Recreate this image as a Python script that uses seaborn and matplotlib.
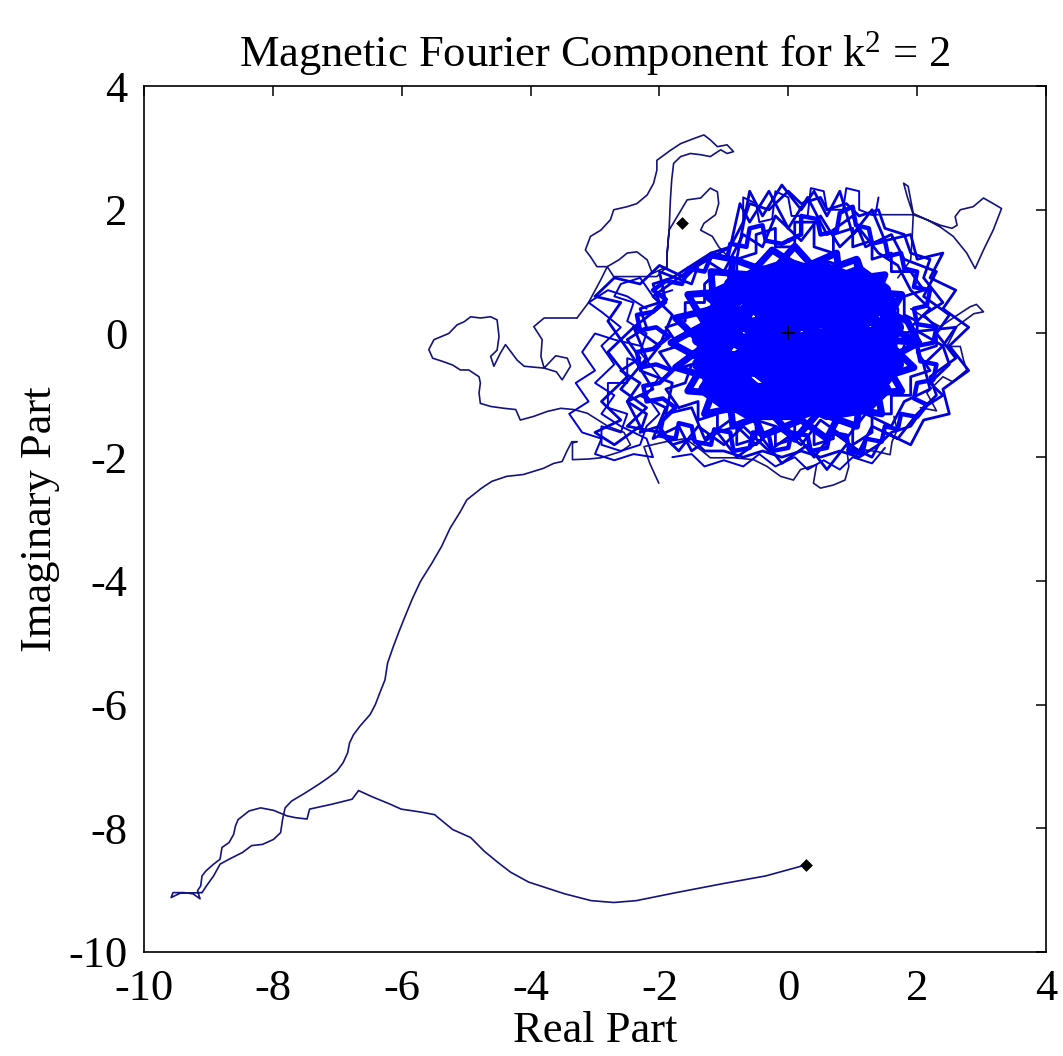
import matplotlib
matplotlib.use("Agg")
import matplotlib.pyplot as plt
import pandas as pd
import seaborn as sns

# ---------------- data ----------------
title = "Magnetic Fourier Component for k$^{2}$ = 2"
x_label = "Real Part"
y_label = "Imaginary Part"
ticks = [-10, -8, -6, -4, -2, 0, 2, 4]

start_point = [(0.28, -8.59)]
end_point = [(-1.65, 1.78)]
origin_point = [(0.0, 0.0)]

tail = [
    (0.28, -8.59), (-0.35, -8.77), (-1.04, -8.90), (-1.74, -9.04), (-2.36, -9.17),
    (-2.71, -9.20), (-3.06, -9.17), (-3.47, -9.06), (-4.03, -8.87), (-4.31, -8.71),
    (-4.51, -8.55), (-4.72, -8.37), (-4.93, -8.15), (-5.21, -8.02), (-5.49, -7.78),
    (-5.69, -7.74), (-6.01, -7.69), (-6.18, -7.61), (-6.46, -7.49), (-6.67, -7.39),
    (-6.77, -7.53), (-7.08, -7.61), (-7.43, -7.69), (-7.47, -7.85), (-7.64, -7.83),
    (-7.78, -7.80), (-7.99, -7.71), (-8.19, -7.67), (-8.37, -7.72), (-8.54, -7.86),
    (-8.58, -7.96), (-8.61, -8.10), (-8.68, -8.23), (-8.79, -8.31), (-8.82, -8.50),
    (-8.92, -8.58), (-9.04, -8.69), (-9.10, -8.77), (-9.12, -8.93), (-9.17, -9.01),
    (-9.13, -9.14), (-9.24, -9.06), (-9.38, -9.04), (-9.55, -9.04), (-9.58, -9.12),
    (-9.44, -9.05), (-9.10, -9.04),
]

branch = [
    (-9.10, -9.04), (-9.03, -8.93), (-8.92, -8.77), (-8.82, -8.58), (-8.68, -8.50),
    (-8.47, -8.39), (-8.33, -8.28), (-8.16, -8.26), (-7.99, -8.18), (-7.88, -8.07),
    (-7.85, -7.86), (-7.81, -7.67), (-7.71, -7.56), (-7.50, -7.43), (-7.29, -7.29),
    (-7.15, -7.19), (-7.01, -7.08), (-6.91, -6.94), (-6.84, -6.78), (-6.81, -6.62),
    (-6.75, -6.49), (-6.65, -6.35), (-6.49, -6.16), (-6.41, -6.00), (-6.34, -5.81),
    (-6.26, -5.60), (-6.22, -5.33), (-6.13, -5.06), (-6.05, -4.84), (-5.97, -4.63),
    (-5.84, -4.30), (-5.71, -4.01), (-5.53, -3.71), (-5.38, -3.44), (-5.25, -3.15),
    (-5.09, -2.88), (-4.99, -2.69), (-4.76, -2.50), (-4.60, -2.39), (-4.37, -2.31),
    (-4.11, -2.28), (-3.80, -2.18), (-3.64, -2.10), (-3.51, -2.07), (-3.44, -1.91),
    (-3.36, -1.75), (-3.28, -1.75),
]

left_loops = [
    (-3.28, -1.75), (-3.35, -1.77), (-3.35, -2.04), (-3.10, -2.03), (-2.91, -2.01),
    (-2.60, -1.91), (-2.45, -1.80), (-2.55, -1.60), (-2.80, -1.50), (-3.12, -1.29),
    (-3.33, -1.23), (-3.53, -1.21), (-3.74, -1.26), (-3.95, -1.34), (-4.16, -1.40),
    (-4.23, -1.23), (-4.41, -1.21), (-4.62, -1.18), (-4.78, -1.13), (-4.80, -0.96),
    (-4.78, -0.80), (-4.80, -0.70), (-4.96, -0.59), (-5.09, -0.59), (-5.21, -0.51),
    (-5.37, -0.45), (-5.52, -0.40), (-5.58, -0.26), (-5.50, -0.10), (-5.27, 0.00),
    (-5.14, 0.14), (-5.03, 0.19), (-4.93, 0.27), (-4.78, 0.25), (-4.62, 0.27),
    (-4.52, 0.22), (-4.49, -0.05), (-4.52, -0.27), (-4.62, -0.37), (-4.57, -0.53),
    (-4.47, -0.32), (-4.39, -0.18), (-4.31, -0.29), (-4.21, -0.43), (-4.10, -0.53),
    (-3.79, -0.56), (-3.61, -0.36), (-3.43, -0.40), (-3.38, -0.53), (-3.51, -0.75),
    (-3.60, -0.62), (-3.79, -0.56), (-3.84, -0.37), (-3.82, -0.10), (-3.95, 0.11),
    (-3.79, 0.25), (-3.53, 0.25), (-3.28, 0.25),
]

upper_loops = [
    (-3.28, 0.25), (-3.10, 0.50), (-2.91, 0.87), (-2.81, 1.08), (-2.97, 1.08),
    (-3.07, 1.24), (-3.15, 1.35), (-3.07, 1.57), (-2.91, 1.67), (-2.76, 1.84),
    (-2.71, 2.00), (-2.50, 2.05), (-2.35, 2.10), (-2.19, 2.24), (-2.09, 2.43),
    (-2.04, 2.64), (-2.04, 2.80), (-1.83, 2.96), (-1.67, 3.07), (-1.47, 3.15),
    (-1.31, 3.21), (-1.21, 3.13), (-1.10, 3.02), (-0.95, 3.05), (-0.85, 2.94),
    (-0.95, 2.91), (-1.05, 2.97), (-1.21, 2.86), (-1.36, 2.89), (-1.52, 2.91),
    (-1.67, 2.86), (-1.78, 2.75), (-1.81, 2.48), (-1.83, 2.16), (-1.85, 1.67),
    (-1.88, 1.30), (-1.88, 1.08), (-2.11, 0.97), (-2.19, 1.19), (-2.35, 1.32),
    (-2.50, 1.30), (-2.63, 1.19), (-2.81, 1.08), (-2.71, 0.92), (-2.04, 0.92),
    (-1.88, 1.08), (-1.88, 1.30), (-1.85, 1.67), (-1.57, 2.16), (-1.36, 2.19),
    (-1.21, 2.35), (-1.10, 2.29), (-1.08, 2.10), (-1.13, 1.92), (-1.31, 1.78),
    (-1.36, 1.67), (-1.18, 1.57), (-1.08, 1.40), (-0.90, 1.20),
]

right_loops = [
    (1.27, 1.92), (1.94, 1.92), (1.85, 2.20), (1.79, 2.43), (1.86, 2.38),
    (1.94, 1.94), (2.15, 1.84), (2.36, 1.72), (2.56, 1.57), (2.77, 1.30),
    (2.90, 1.05), (3.03, 1.35), (3.18, 1.67), (3.31, 2.02), (3.18, 2.10),
    (3.03, 2.19), (2.87, 2.05), (2.67, 2.00), (2.59, 1.89), (2.62, 1.75),
    (2.54, 1.70), (2.36, 1.75), (2.15, 1.84), (1.94, 1.92), (1.92, 1.50),
    (1.90, 1.19), (1.70, 0.90),
]

right_ext = [
    (1.90, 0.40), (2.20, 0.20), (2.36, 0.11), (2.60, 0.28), (2.82, 0.43),
    (2.92, 0.47), (3.03, 0.35), (2.88, 0.32), (2.62, 0.12), (2.46, -0.21),
    (2.67, -0.21), (2.72, -0.43), (2.77, -0.59), (2.55, -0.78), (2.40, -0.70),
    (2.15, -0.96), (2.30, -1.25), (2.05, -1.20),
]

bottom_loops = [
    (1.64, -1.34), (1.69, -1.56), (1.61, -1.75), (1.58, -1.96), (1.38, -1.91),
    (1.17, -1.88), (0.91, -1.88), (0.94, -2.15), (0.88, -2.37), (0.70, -2.45),
    (0.50, -2.50), (0.39, -2.42), (0.44, -2.12), (0.19, -2.20), (0.08, -2.37),
    (-0.12, -2.31), (-0.33, -2.15), (-0.54, -2.04), (-0.85, -2.01), (-1.21, -2.01),
    (-1.36, -1.88), (-1.60, -1.70), (-1.90, -1.75), (-2.24, -1.83), (-2.15, -2.10),
    (-2.01, -2.42),
]

left_mesh = [
    (-2.2, -0.5), (-2.5, -0.4), (-2.5, -0.8), (-2.8, -0.8), (-2.8, -1.2), (-2.5, -1.3),
    (-2.6, -1.6), (-2.9, -1.5), (-2.9, -1.8), (-2.6, -1.9), (-2.3, -1.8), (-2.2, -1.5),
    (-2.0, -1.3), (-2.2, -1.0), (-2.0, -0.7), (-2.3, -0.3), (-2.2, 0.0), (-2.5, 0.2),
    (-2.4, 0.5), (-2.7, 0.6), (-2.6, 0.8), (-2.3, 0.9), (-2.1, 0.6), (-1.8, 0.7),
]

left_mesh_outer = [
    (-2.3, -0.2), (-2.7, -0.1), (-3.0, 0.0), (-3.2, -0.3), (-3.0, -0.6), (-3.3, -0.8),
    (-3.1, -1.1), (-3.4, -1.3), (-3.2, -1.6), (-2.9, -1.7), (-3.0, -1.95), (-2.7, -2.05),
    (-2.4, -1.95), (-2.1, -2.0), (-2.2, -1.7), (-2.6, -1.5), (-2.9, -1.3), (-2.7, -1.0),
    (-3.0, -0.8), (-2.7, -0.5), (-2.9, -0.2), (-2.6, 0.1), (-2.9, 0.35), (-3.1, 0.5),
    (-2.8, 0.7), (-2.5, 0.6), (-2.2, 0.4),
]

top_spikes = [
    (-0.7, 1.7), (-0.7, 2.2), (-0.5, 2.1), (-0.45, 1.8), (-0.25, 1.85), (-0.2, 2.3),
    (0.0, 2.2), (0.05, 1.9), (0.3, 1.9), (0.35, 2.35), (0.55, 2.3), (0.6, 2.0),
    (0.85, 2.0), (0.9, 2.35), (1.1, 2.3), (1.1, 2.0), (1.35, 1.9), (1.4, 2.2),
]

bottom_fringe = [
    (1.5, -1.85), (1.3, -2.1), (1.0, -2.0), (0.8, -2.2), (0.55, -2.05), (0.3, -2.2),
    (0.1, -2.0), (-0.2, -2.15), (-0.45, -1.95), (-0.7, -2.15), (-1.0, -2.05), (-1.3, -2.15),
    (-1.5, -1.95), (-1.8, -2.0),
]

ring = [
    (-2.0, -0.2), (-1.8, 0.3), (-2.1, 0.6), (-1.7, 0.9), (-1.3, 1.2), (-1.0, 1.0),
    (-0.7, 1.6), (-0.4, 1.4), (-0.2, 1.9), (0.2, 1.5), (0.5, 1.9), (0.8, 1.4),
    (1.1, 1.7), (1.4, 1.3), (1.7, 1.1), (1.9, 0.7), (2.2, 0.4), (1.9, 0.1),
    (2.4, -0.2), (2.1, -0.5), (2.2, -0.9), (1.8, -1.1), (1.6, -1.5), (1.2, -1.3),
    (0.9, -1.7), (0.5, -1.4), (0.2, -1.8), (-0.2, -1.5), (-0.5, -1.8), (-0.9, -1.4),
    (-1.3, -1.7), (-1.5, -1.2), (-1.9, -1.3), (-1.8, -0.8), (-2.3, -0.6), (-2.0, -0.2),
    (-2.4, 0.1), (-2.2, -0.4), (-2.6, -0.9), (-2.2, -1.2), (-2.5, -1.5), (-2.0, -1.6),
    (-1.7, -1.9), (-1.4, -1.5), (-1.0, -1.8), (-0.7, -1.5), (-0.3, -1.9), (0.1, -1.6),
    (0.4, -2.0), (0.7, -1.6), (1.1, -1.9), (1.3, -1.5), (1.7, -1.7), (2.0, -1.3),
    (2.3, -1.0), (2.2, -0.7), (2.6, -0.4), (2.3, 0.0), (2.5, 0.3), (2.1, 0.6),
    (2.3, 1.0), (1.8, 1.2), (1.6, 1.6), (1.2, 1.4), (1.0, 1.9), (0.6, 1.6),
    (0.3, 2.2), (0.0, 1.7), (-0.3, 2.3), (-0.6, 1.8), (-0.75, 2.1), (-0.9, 1.4),
    (-1.4, 1.1), (-1.5, 0.8), (-2.0, 1.0), (-1.9, 0.5), (-2.4, 0.1),
    (-2.8, -0.3), (-2.5, -0.7), (-2.9, -1.1), (-2.6, -1.4), (-3.0, -1.6), (-2.7, -1.8),
    (-2.3, -1.5), (-2.5, -1.1), (-2.1, -0.9), (-2.4, -0.4), (-2.8, 0.2), (-2.6, 0.5),
    (-3.0, 0.6), (-2.7, 0.9), (-2.3, 0.8), (-2.0, 1.1), (-1.6, 0.9), (-1.2, 1.3),
    (-0.8, 1.2), (-0.6, 2.3), (-0.4, 1.9), (-0.1, 2.4), (0.2, 2.0), (0.4, 2.3),
    (0.6, 1.9), (0.8, 2.3), (1.0, 1.6), (1.3, 2.0), (1.5, 1.5), (1.9, 1.6),
    (2.0, 1.2), (2.4, 1.3), (2.2, 0.9), (2.6, 0.7), (2.4, 0.4), (2.8, 0.1),
    (2.5, -0.2), (2.8, -0.6), (2.4, -0.9), (2.5, -1.3), (2.1, -1.4), (1.9, -1.8),
    (1.5, -1.6), (1.3, -2.0), (0.9, -1.8), (0.6, -2.2), (0.3, -1.8), (-0.1, -2.1),
    (-0.4, -1.7), (-0.8, -2.0), (-1.1, -1.6), (-1.5, -1.9), (-1.7, -1.5), (-2.1, -1.7),
    (-1.9, -1.2), (-2.3, -1.0),
]

ring_inner = [
    (2.0, -0.1), (2.0, 0.2), (1.8, 0.3), (1.8, 0.6), (2.1, 0.7), (1.9, 1.0),
    (1.6, 1.0), (1.6, 1.3), (1.3, 1.2), (1.3, 1.5), (1.0, 1.4), (1.0, 1.7),
    (0.7, 1.6), (0.7, 1.3), (0.4, 1.4), (0.4, 1.8), (0.1, 1.8), (0.1, 1.4),
    (-0.2, 1.4), (-0.2, 1.7), (-0.5, 1.6), (-0.5, 1.3), (-0.8, 1.2), (-0.8, 0.9),
    (-1.1, 1.0), (-1.3, 0.8), (-1.3, 0.5), (-1.6, 0.5), (-1.6, 0.2), (-1.9, 0.1),
    (-1.7, -0.2), (-2.0, -0.3), (-1.8, -0.6), (-1.5, -0.5), (-1.6, -0.8), (-1.9, -0.9),
    (-1.7, -1.2), (-1.4, -1.1), (-1.4, -1.4), (-1.1, -1.3), (-1.1, -1.6), (-0.8, -1.5),
    (-0.8, -1.8), (-0.5, -1.7), (-0.5, -1.4), (-0.2, -1.5), (-0.2, -1.8), (0.1, -1.7),
    (0.1, -1.4), (0.4, -1.5), (0.4, -1.8), (0.7, -1.7), (0.7, -1.4), (1.0, -1.5),
    (1.0, -1.8), (1.3, -1.6), (1.3, -1.3), (1.6, -1.3), (1.6, -1.0), (1.9, -1.0),
    (1.9, -0.7), (2.2, -0.6), (2.0, -0.3), (2.3, -0.2), (2.3, 0.1), (2.1, 0.3),
    (2.4, 0.5), (2.1, 0.9), (2.2, 1.2), (1.9, 1.3), (1.8, 1.6), (1.5, 1.7),
    (1.4, 2.0), (1.1, 1.9), (0.9, 2.1), (0.6, 2.0), (0.5, 2.2), (0.2, 2.1),
    (0.0, 2.3), (-0.3, 2.0), (-0.6, 2.1), (-0.7, 1.8), (-0.9, 1.4), (-1.2, 1.3),
    (-1.5, 1.1), (-1.8, 0.9), (-2.1, 0.8), (-2.0, 0.5), (-2.3, 0.4), (-2.2, 0.1),
    (-2.5, -0.1), (-2.3, -0.4), (-2.6, -0.6), (-2.3, -0.8), (-2.5, -1.1), (-2.2, -1.3),
    (-2.3, -1.6), (-2.0, -1.5), (-1.8, -1.8), (-1.5, -1.7), (-1.3, -1.9), (-1.0, -1.9),
    (-0.7, -2.0), (-0.4, -1.9), (-0.1, -2.0), (0.2, -1.9), (0.5, -2.0), (0.8, -1.9),
    (1.1, -2.0), (1.4, -1.8), (1.6, -1.6), (1.9, -1.5), (2.1, -1.2), (2.4, -1.0),
    (2.2, -0.8), (2.5, -0.5), (2.4, -0.2), (2.6, 0.1),
    (1.7, 0.0), (1.7, 0.4), (1.5, 0.7), (1.2, 0.9), (1.1, 1.2), (0.8, 1.1),
    (0.5, 1.2), (0.3, 1.1), (0.0, 1.2), (-0.3, 1.1), (-0.6, 1.0), (-0.9, 0.7),
    (-1.1, 0.5), (-1.3, 0.2), (-1.4, -0.1), (-1.4, -0.4), (-1.3, -0.8), (-1.0, -1.0),
    (-0.8, -1.2), (-0.5, -1.3), (-0.2, -1.3), (0.1, -1.4), (0.4, -1.3), (0.7, -1.3),
    (1.0, -1.2), (1.3, -1.0), (1.5, -0.8), (1.7, -0.5), (1.8, -0.2),
]

halo = [
    (0.0, 1.5), (0.2, 1.6), (0.2, 1.9), (0.45, 1.85), (0.5, 1.6), (0.75, 1.65),
    (0.8, 1.95), (1.0, 2.05), (1.05, 1.75), (1.25, 1.7), (1.3, 1.45), (1.5, 1.5),
    (1.55, 1.25), (1.75, 1.3), (1.8, 1.05), (2.0, 1.0), (1.95, 0.75), (2.2, 0.7),
    (2.15, 0.45), (1.95, 0.4), (2.0, 0.15), (2.3, 0.1), (2.25, -0.15), (2.0, -0.2),
    (2.05, -0.45), (2.3, -0.5), (2.25, -0.75), (2.0, -0.8), (1.95, -1.05), (2.15, -1.15),
    (2.0, -1.35), (1.75, -1.3), (1.7, -1.55), (1.5, -1.5), (1.45, -1.75), (1.2, -1.7),
    (1.15, -1.95), (0.95, -1.9), (0.9, -1.65), (0.65, -1.6), (0.6, -1.85), (0.35, -1.9),
    (0.3, -1.65), (0.05, -1.6), (0.0, -1.85), (-0.25, -1.9), (-0.3, -1.65), (-0.55, -1.6),
    (-0.6, -1.85), (-0.85, -1.9), (-0.9, -1.6), (-1.15, -1.55), (-1.2, -1.8), (-1.45, -1.75),
    (-1.5, -1.5), (-1.7, -1.45), (-1.75, -1.7), (-2.0, -1.65), (-1.95, -1.4), (-1.75, -1.2),
    (-1.95, -1.05), (-2.2, -1.1), (-2.25, -0.85), (-2.0, -0.8), (-1.8, -0.6), (-2.05, -0.5),
    (-2.3, -0.55), (-2.35, -0.3), (-2.1, -0.25), (-1.85, -0.05), (-2.05, 0.1), (-2.3, 0.05),
    (-2.35, 0.3), (-2.1, 0.35), (-1.9, 0.55), (-2.1, 0.7), (-1.9, 0.85), (-1.65, 0.8),
    (-1.55, 1.05), (-1.3, 1.0), (-1.2, 1.25), (-0.95, 1.2), (-0.9, 1.45), (-0.65, 1.4),
    (-0.6, 1.7), (-0.4, 1.75), (-0.35, 1.5), (-0.1, 1.45), (0.0, 1.5),
]

core_fringe = [
    (2.02, -0.15), (1.49, 0.15), (1.76, 0.63), (1.12, 0.68), (1.06, 1.20), (0.47, 0.98),
    (0.10, 1.41), (-0.27, 0.98), (-0.86, 1.20), (-0.92, 0.68), (-1.56, 0.63), (-1.29, 0.15),
    (-1.82, -0.15), (-1.29, -0.45), (-1.56, -0.93), (-0.92, -0.98), (-0.86, -1.50), (-0.27, -1.28),
    (0.10, -1.71), (0.47, -1.28), (1.06, -1.50), (1.12, -0.98), (1.76, -0.93), (1.49, -0.45),
    (2.02, -0.15), (1.85, 0.20), (1.30, 0.45), (1.50, 0.95), (0.80, 0.85), (0.75, 1.30),
    (0.20, 1.05), (-0.25, 1.35), (-0.60, 0.95), (-1.20, 1.00), (-1.15, 0.40), (-1.75, 0.25),
    (-1.30, -0.20), (-1.75, -0.55), (-1.10, -0.75), (-1.30, -1.30), (-0.60, -1.15), (-0.40, -1.65),
    (0.20, -1.40), (0.60, -1.70), (0.85, -1.20), (1.45, -1.30), (1.35, -0.75), (1.95, -0.55),
    (1.50, -0.10), (2.02, -0.15),
]

core = [
    (0.0, 0.0), (0.6, 0.5), (1.2, 0.2), (0.8, -0.4), (1.4, -0.7), (0.9, -1.1),
    (0.3, -0.7), (-0.2, -1.2), (-0.7, -0.8), (-1.2, -0.5), (-0.8, 0.0), (-1.3, 0.3),
    (-0.7, 0.6), (-0.2, 0.9), (0.4, 1.0), (0.9, 0.7), (1.5, 0.4), (1.6, -0.2),
    (1.1, -0.5), (0.5, -0.1), (0.1, -0.5), (-0.4, -0.3), (-1.0, -0.9), (-0.5, -1.3),
    (0.2, -1.3), (0.7, -0.9), (1.3, -1.0), (1.7, -0.5), (1.3, 0.0), (0.7, 0.1),
    (0.2, 0.4), (-0.4, 0.3), (-0.9, 0.8), (-0.4, 1.0), (0.1, 0.7), (0.8, 0.9),
    (1.3, 0.7), (1.0, 0.3), (0.4, -0.3), (-0.1, -0.8), (-0.6, -1.1), (-1.1, -0.2),
    (-1.4, -0.1), (-1.0, 0.4), (-0.5, 0.0), (0.0, -0.3), (0.6, -0.6), (1.0, -0.8),
    (1.5, -0.9), (1.2, -1.2), (0.6, -1.3), (0.0, -1.0), (-0.5, -0.6), (-1.1, -0.6),
    (-1.3, -0.9), (-0.9, -1.2), (-0.3, -0.9), (0.3, -1.0), (0.9, -0.7), (1.4, -0.4),
    (1.7, 0.1), (1.4, 0.5), (0.9, 0.4), (0.3, 0.1), (-0.3, 0.6), (-0.8, 0.3),
    (-1.2, 0.6), (-0.6, 0.9), (0.0, 1.1), (0.6, 0.8), (1.1, 1.0), (1.5, 0.7),
    (1.2, 0.4), (0.7, -0.2), (0.2, -0.2), (-0.3, -0.5), (-0.8, -0.4), (-1.3, -0.3),
    (-0.9, 0.1), (-0.3, 0.2), (0.3, 0.6), (0.9, 0.1), (1.4, -0.2), (1.0, -0.3),
    (0.5, -0.9), (-0.1, -1.3), (-0.7, -1.0), (-1.2, -0.8), (-0.8, -0.6), (-0.2, -0.1),
    (0.4, 0.3), (1.0, 0.6), (1.6, 0.3), (1.2, -0.3), (0.7, -0.5), (0.1, -0.9),
    (-0.4, -1.1), (-1.0, -0.3), (-0.6, 0.4), (-0.1, 0.5), (0.5, 0.7), (1.1, 0.5),
    (1.5, 0.0), (1.1, -0.7), (0.4, -1.2), (-0.2, -0.6), (-0.7, -0.2), (-1.2, 0.1),
    (-0.8, 0.6), (-0.2, 0.8), (0.3, 0.9), (0.8, 0.5), (1.3, 0.3), (0.8, -0.1),
    (0.2, -0.6), (-0.3, -1.0), (-0.9, -0.7), (-1.4, -0.5), (-1.0, -0.1), (-0.4, -0.1),
    (0.2, 0.2), (0.7, 0.4), (1.2, 0.8), (0.7, 1.0), (0.2, 0.6), (-0.4, 0.7),
    (-1.0, 0.5), (-1.3, 0.0), (-0.9, -0.4), (-0.3, -0.7), (0.3, -0.4), (0.9, -0.5),
    (1.5, -0.6), (1.0, -1.0), (0.4, -0.8), (-0.1, -0.4), (-0.6, -0.5), (-1.1, -1.0),
    (-0.6, -1.3), (0.0, -1.2), (0.5, -0.5), (1.1, -0.1), (1.6, -0.3), (1.3, -0.8),
    (0.8, -1.2), (0.2, -1.1), (-0.3, -1.3), (-0.8, -1.0), (-1.2, -0.7), (-0.7, -0.4),
    (-0.1, 0.0), (0.4, 0.5), (1.0, 0.8), (0.5, 1.1), (-0.1, 0.9), (-0.6, 0.7),
    (-1.1, 0.3), (-0.6, 0.1), (0.0, 0.3), (0.6, 0.2), (1.2, 0.6), (1.6, 0.5),
    (1.3, -0.5), (0.8, -0.8), (0.2, -0.9), (-0.5, -0.9), (-1.0, -0.5), (-0.5, -0.2),
    (0.1, -0.1), (0.6, 0.0), (1.0, -0.5), (0.5, -1.1), (0.0, -0.6), (-0.5, 0.5),
    (0.0, 0.0),
]


def frame(points):
    return pd.DataFrame(points, columns=["re", "im"])


# ---------------- style ----------------
sns.set_theme(style="white")
plt.rcParams["font.family"] = ["Liberation Serif", "DejaVu Serif"]
plt.rcParams["mathtext.fontset"] = "custom"
plt.rcParams["mathtext.rm"] = "Liberation Serif"
plt.rcParams["mathtext.it"] = "Liberation Serif:italic"
plt.rcParams["axes.unicode_minus"] = False
plt.rcParams["text.color"] = "black"
plt.rcParams["axes.labelcolor"] = "black"

fig = plt.figure(figsize=(10.63, 10.56), dpi=100)
ax = fig.add_axes([0.1355, 0.0985, 0.8485, 0.82])

thin = "#14147f"
mid = "#0000d8"
dense = "#0000ff"

for seg in [tail, branch, left_loops, upper_loops, right_loops, right_ext, bottom_loops]:
    sns.lineplot(data=frame(seg), x="re", y="im", sort=False, estimator=None,
                 color=thin, linewidth=1.2, ax=ax)
for seg in [left_mesh, left_mesh_outer, top_spikes, bottom_fringe]:
    sns.lineplot(data=frame(seg), x="re", y="im", sort=False, estimator=None,
                 color=mid, linewidth=1.4, ax=ax)
for seg in [ring, ring_inner]:
    sns.lineplot(data=frame(seg), x="re", y="im", sort=False, estimator=None,
                 color=mid, linewidth=2.0, ax=ax)
sns.lineplot(data=frame(halo), x="re", y="im", sort=False, estimator=None,
             color=dense, linewidth=3.2, ax=ax)
sns.lineplot(data=frame(core_fringe), x="re", y="im", sort=False, estimator=None,
             color=dense, linewidth=5.0, ax=ax)
sns.lineplot(data=frame(core), x="re", y="im", sort=False, estimator=None,
             color=dense, linewidth=9.0, ax=ax)

sns.scatterplot(data=frame(start_point + end_point), x="re", y="im", marker="D",
                color="black", s=36, edgecolor="black", ax=ax, zorder=5)
sns.scatterplot(data=frame(origin_point), x="re", y="im", marker="+",
                color="black", s=90, linewidth=1.4, ax=ax, zorder=5)

ax.set_xlim(-10, 4)
ax.set_ylim(-10, 4)
ax.set_xticks(ticks)
ax.set_yticks(ticks)
ax.set_xticklabels([str(t) for t in ticks])
ax.set_yticklabels([str(t) for t in ticks])
ax.tick_params(direction="in", length=7, width=1.1, top=True, right=True,
               labelsize=32, pad=12, colors="black")
for s in ax.spines.values():
    s.set_visible(True)
    s.set_color("black")
    s.set_linewidth(1.2)

ax.set_title(title, fontsize=32, pad=14, color="black")
ax.set_xlabel(x_label, fontsize=32, labelpad=2)
ax.set_ylabel(y_label, fontsize=32, labelpad=6)

fig.savefig("out.png", dpi=100, facecolor="white")
